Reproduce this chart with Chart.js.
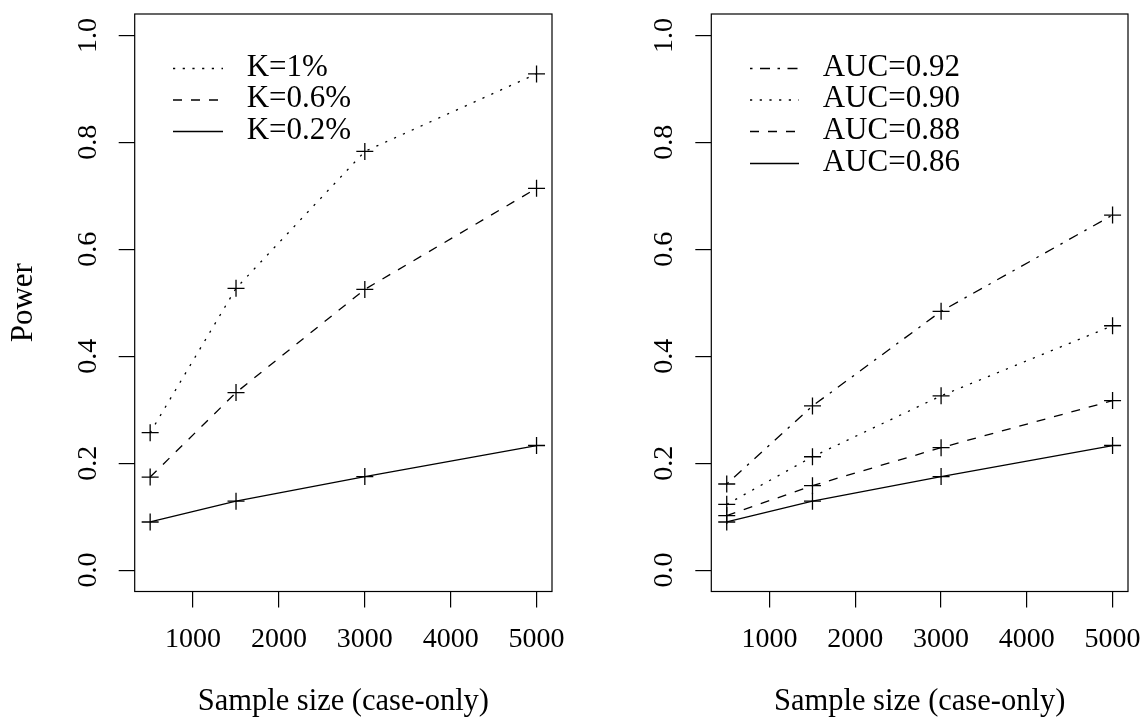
<!DOCTYPE html>
<html>
<head>
<meta charset="utf-8">
<script src="https://cdn.jsdelivr.net/npm/chart.js@4.4.1/dist/chart.umd.min.js"></script>
<style>
  html, body { margin: 0; padding: 0; background: #ffffff; }
  #wrap { position: relative; width: 1148px; height: 722px; overflow: hidden; }
  #wrap canvas { position: absolute; top: 0; }
</style>
</head>
<body>
<div id="wrap">
  <canvas id="c1" width="574" height="722" style="left:0px"></canvas>
  <canvas id="c2" width="574" height="722" style="left:574px"></canvas>
</div>
<script>
// ---------------- data ----------------
const sampleSizes = [500, 1500, 3000, 5000];
const xTickValues = [1000, 2000, 3000, 4000, 5000];
const yTickValues = [0, 0.2, 0.4, 0.6, 0.8, 1.0];

const kLabels = ['K=1%', 'K=0.6%', 'K=0.2%'];
const powerK1 = [0.257, 0.527, 0.783, 0.928];
const powerK06 = [0.174, 0.332, 0.525, 0.714];
const powerK02 = [0.090, 0.129, 0.175, 0.233];

const aucLabels = ['AUC=0.92', 'AUC=0.90', 'AUC=0.88', 'AUC=0.86'];
const powerAUC92 = [0.161, 0.307, 0.484, 0.664];
const powerAUC90 = [0.123, 0.212, 0.326, 0.457];
const powerAUC88 = [0.102, 0.158, 0.229, 0.317];
const powerAUC86 = [0.090, 0.129, 0.175, 0.233];

const xTitle = 'Sample size (case-only)';
const yTitle = 'Power';

// ---------------- styles ----------------
const FONT = "'Liberation Serif', 'Times New Roman', serif";
Chart.defaults.font.family = FONT;
Chart.defaults.color = '#000000';

const DOTTED = [2.2, 7.5];
const DASHED = [9, 9];
const DOTDASH = [2.5, 7.5, 10, 7.5];
const SOLID = [];

function series(label, values, dash) {
  return {
    label: label,
    data: sampleSizes.map((x, i) => ({ x: x, y: values[i] })),
    borderColor: '#000000',
    borderWidth: 1.3,
    borderDash: dash,
    fill: false,
    tension: 0,
    pointStyle: 'cross',
    pointRadius: 8.5,
    pointHoverRadius: 8.5,
    pointBorderWidth: 1.3,
    pointBorderColor: '#000000',
    pointBackgroundColor: '#000000'
  };
}

const boxPlugin = {
  id: 'plotBox',
  afterDraw(chart) {
    const { ctx, chartArea: a } = chart;
    ctx.save();
    ctx.strokeStyle = '#000000';
    ctx.lineWidth = 1.2;
    ctx.setLineDash([]);
    ctx.strokeRect(a.left, a.top, a.right - a.left, a.bottom - a.top);
    ctx.restore();
  }
};

const insetLegend = {
  id: 'insetLegend',
  afterDatasetsDraw(chart, args, opts) {
    const ctx = chart.ctx;
    ctx.save();
    ctx.font = opts.size + 'px ' + FONT;
    ctx.textBaseline = 'middle';
    ctx.textAlign = 'left';
    ctx.fillStyle = '#000000';
    chart.data.datasets.forEach((ds, i) => {
      const y = opts.rows[i];
      ctx.beginPath();
      ctx.setLineDash(ds.borderDash || []);
      ctx.lineWidth = ds.borderWidth;
      ctx.strokeStyle = '#000000';
      ctx.moveTo(opts.x1, y);
      ctx.lineTo(opts.x2, y);
      ctx.stroke();
      ctx.setLineDash([]);
      ctx.fillText(ds.label, opts.tx, y - 1);
    });
    ctx.restore();
  }
};

function makeOptions(cfg) {
  return {
    responsive: false,
    animation: false,
    events: [],
    layout: { padding: { left: 0, right: cfg.padRight, top: 14, bottom: 0 } },
    plugins: {
      legend: { display: false },
      tooltip: { enabled: false },
      insetLegend: cfg.legend
    },
    scales: {
      x: {
        type: 'linear',
        min: 320,
        max: 5180,
        afterBuildTicks: (s) => { s.ticks = xTickValues.map(v => ({ value: v })); },
        afterFit: (s) => {
          s.height = 130.5;
          s.paddingLeft = 0; s.paddingRight = 0; s.paddingTop = 0; s.paddingBottom = 0;
        },
        ticks: {
          font: { size: 28 },
          color: '#000000',
          padding: 15,
          maxRotation: 0,
          autoSkip: false,
          callback: (v) => String(v)
        },
        grid: { drawOnChartArea: false, drawTicks: true, tickLength: 16, color: '#000000', lineWidth: 1.2 },
        border: { display: false },
        title: {
          display: true,
          text: xTitle,
          font: { size: 30.5 },
          color: '#000000',
          padding: { top: 0, bottom: 2 }
        }
      },
      y: {
        type: 'linear',
        min: -0.04,
        max: 1.04,
        afterBuildTicks: (s) => { s.ticks = yTickValues.map(v => ({ value: v })); },
        afterFit: (s) => {
          s.width = cfg.yWidth;
          s.paddingLeft = 0; s.paddingRight = 0; s.paddingTop = 0; s.paddingBottom = 0;
        },
        ticks: {
          font: { size: 28 },
          color: '#000000',
          padding: 13,
          minRotation: 90,
          maxRotation: 90,
          crossAlign: 'center',
          autoSkip: false,
          callback: (v) => Number(v).toFixed(1)
        },
        grid: { drawOnChartArea: false, drawTicks: true, tickLength: 16, color: '#000000', lineWidth: 1.2 },
        border: { display: false },
        title: {
          display: cfg.showYTitle,
          text: yTitle,
          font: { size: 31 },
          color: '#000000',
          padding: { top: 5.5, bottom: 0 }
        }
      }
    }
  };
}

new Chart(document.getElementById('c1'), {
  type: 'line',
  data: {
    datasets: [
      series(kLabels[0], powerK1, DOTTED),
      series(kLabels[1], powerK06, DASHED),
      series(kLabels[2], powerK02, SOLID)
    ]
  },
  options: makeOptions({
    padRight: 22,
    yWidth: 134.7,
    showYTitle: true,
    legend: { x1: 173, x2: 223, tx: 246.7, rows: [68.5, 100, 131.5], size: 31 }
  }),
  plugins: [boxPlugin, insetLegend]
});

new Chart(document.getElementById('c2'), {
  type: 'line',
  data: {
    datasets: [
      series(aucLabels[0], powerAUC92, DOTDASH),
      series(aucLabels[1], powerAUC90, DOTTED),
      series(aucLabels[2], powerAUC88, DASHED),
      series(aucLabels[3], powerAUC86, SOLID)
    ]
  },
  options: makeOptions({
    padRight: 20,
    yWidth: 137.3,
    showYTitle: false,
    legend: { x1: 176, x2: 225, tx: 248.7, rows: [68.5, 100, 131.5, 163.5], size: 31 }
  }),
  plugins: [boxPlugin, insetLegend]
});
</script>
</body>
</html>
